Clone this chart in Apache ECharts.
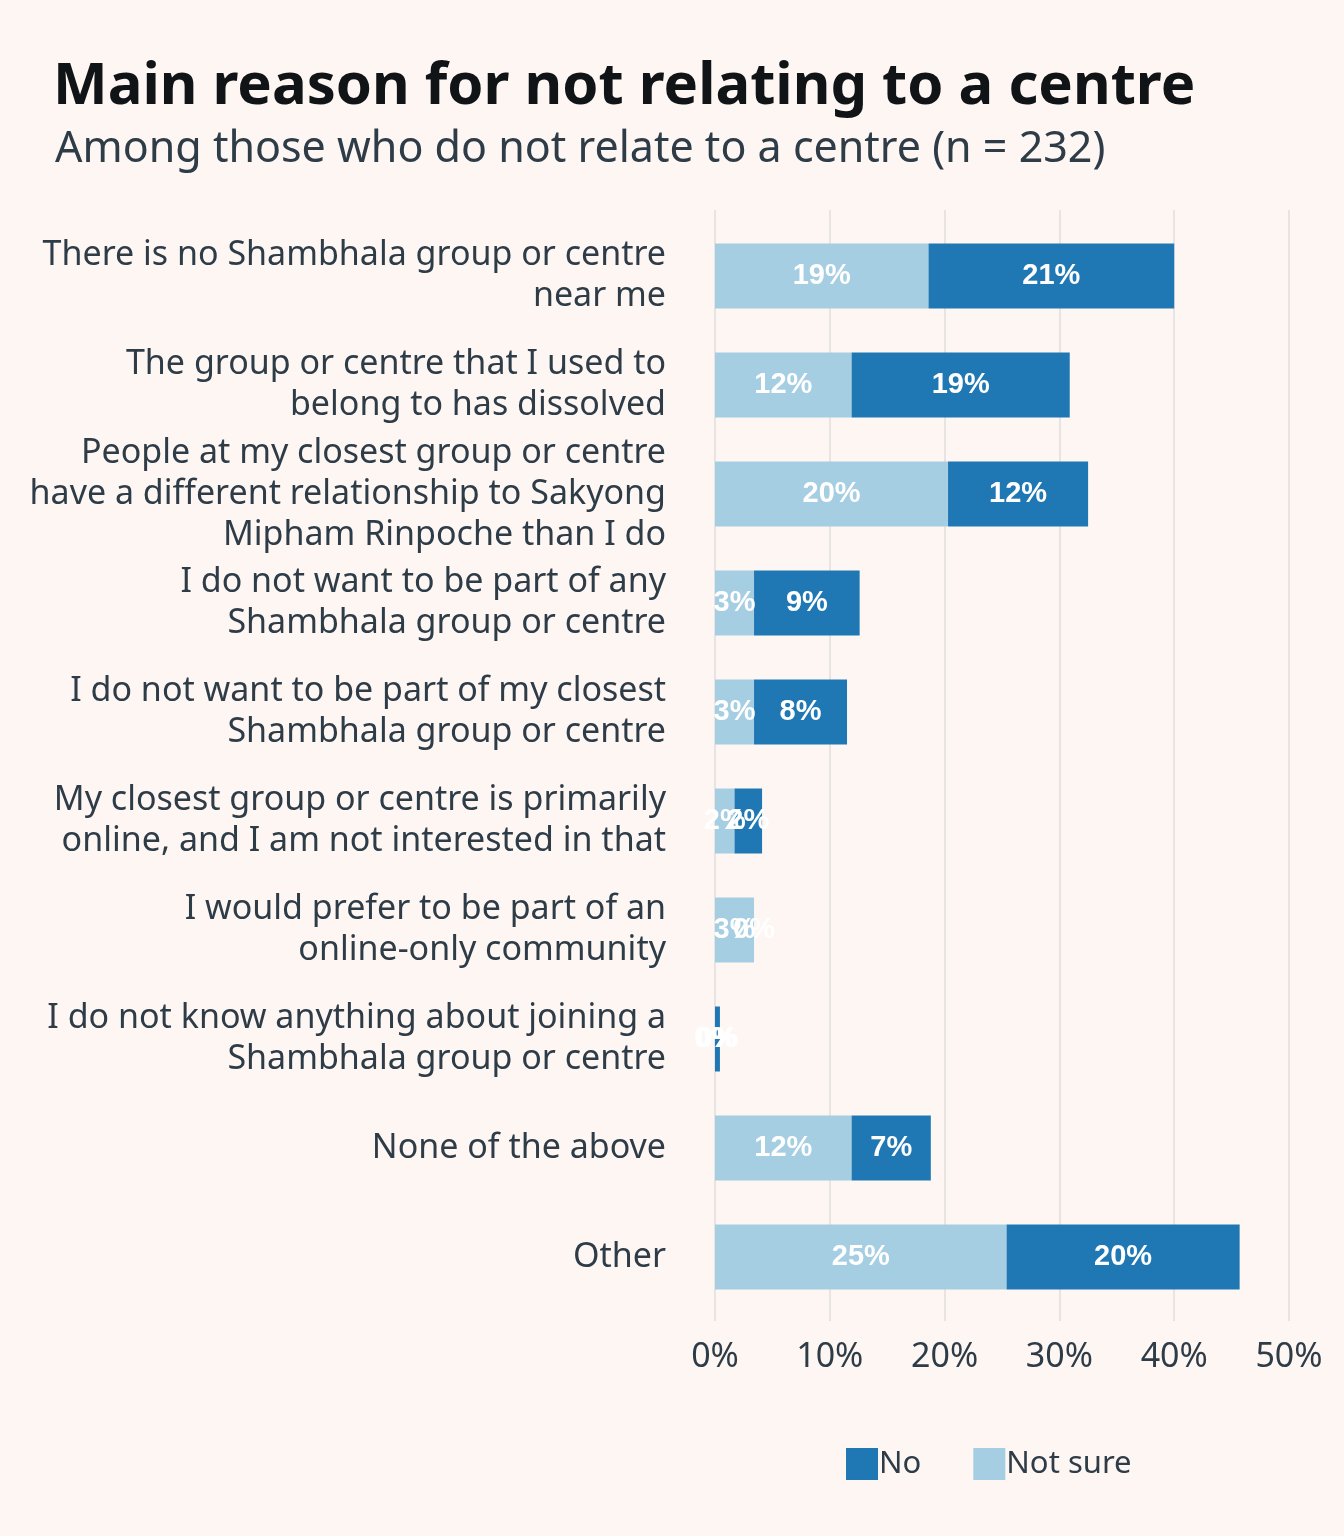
<!DOCTYPE html>
<html>
<head>
<meta charset="utf-8">
<script src="https://cdn.jsdelivr.net/npm/echarts@6/dist/echarts.min.js"></script>
<style>
html,body{margin:0;padding:0;background:#fdf6f3;}
#chart{width:1344px;height:1536px;}
</style>
</head>
<body>
<div id="chart"></div>
<script>
var categories = [
  "There is no Shambhala group or centre\nnear me",
  "The group or centre that I used to\nbelong to has dissolved",
  "People at my closest group or centre\nhave a different relationship to Sakyong\nMipham Rinpoche than I do",
  "I do not want to be part of any\nShambhala group or centre",
  "I do not want to be part of my closest\nShambhala group or centre",
  "My closest group or centre is primarily\nonline, and I am not interested in that",
  "I would prefer to be part of an\nonline-only community",
  "I do not know anything about joining a\nShambhala group or centre",
  "None of the above",
  "Other"
];
var notSure = [18.6, 11.9, 20.3, 3.4, 3.4, 1.7, 3.4, 0, 11.9, 25.4];
var no = [21.4, 19.0, 12.2, 9.2, 8.1, 2.4, 0, 0.43, 6.9, 20.3];
var xTicks = [0, 10, 20, 30, 40, 50];

var textColor = '#2e3c48';
var labelCfg = {
  show: true,
  position: 'inside',
  color: '#ffffff',
  fontFamily: 'Liberation Sans, Arial, sans-serif',
  fontWeight: 'bold',
  fontSize: 29,
  formatter: function (p) { return Math.round(p.value) + '%'; }
};

var chart = echarts.init(document.getElementById('chart'));
chart.setOption({
  backgroundColor: '#fdf6f3',
  animation: false,
  title: [{
    text: 'Main reason for not relating to a centre',
    left: 48, top: 53,
    textStyle: {fontFamily: 'Noto Sans', fontWeight: 'bold', fontSize: 58, color: '#111417'}
  }, {
    text: 'Among those who do not relate to a centre (n = 232)',
    left: 50, top: 123,
    textStyle: {fontFamily: 'Noto Sans', fontWeight: 'normal', fontSize: 43, color: textColor}
  }],
  legend: {
    data: ['No', 'Not sure'],
    left: 841, top: 1443,
    itemWidth: 32, itemHeight: 32, itemGap: 52,
    icon: 'rect',
    textStyle: {fontFamily: 'Noto Sans', fontSize: 31, color: textColor, padding: [0,0,0,-4]}
  },
  grid: [
    {left: 715, right: 55, top: 221.5, height: 1090, containLabel: false},
    {left: 715, right: 55, top: 210, height: 1111, containLabel: false}
  ],
  xAxis: [{
    gridIndex: 0, type: 'value', min: 0, max: 50, interval: 10,
    axisLine: {show: false}, axisTick: {show: false}, splitLine: {show: false},
    axisLabel: {show: true, margin: 29, formatter: '{value}%', fontFamily: 'Noto Sans', fontSize: 34, color: textColor}
  }, {
    gridIndex: 1, type: 'value', min: 0, max: 50, interval: 10,
    axisLine: {show: false}, axisTick: {show: false}, axisLabel: {show: false},
    splitLine: {show: true, lineStyle: {color: '#e7e4e1', width: 2}}
  }],
  yAxis: [{
    gridIndex: 0, type: 'category', data: categories, inverse: true,
    axisLine: {show: false}, axisTick: {show: false},
    axisLabel: {margin: 49, fontFamily: 'Noto Sans', fontSize: 34, lineHeight: 41, color: textColor, align: 'right'}
  }, {
    gridIndex: 1, type: 'category', data: [''], show: false
  }],
  series: [{
    name: 'Not sure', type: 'bar', stack: 'a', data: notSure,
    xAxisIndex: 0, yAxisIndex: 0, barWidth: 65,
    itemStyle: {color: '#a6cee3'}, label: labelCfg, z: 3
  }, {
    name: 'No', type: 'bar', stack: 'a', data: no,
    xAxisIndex: 0, yAxisIndex: 0, barWidth: 65,
    itemStyle: {color: '#1f78b4'}, label: labelCfg, z: 3
  }]
});
</script>
</body>
</html>
